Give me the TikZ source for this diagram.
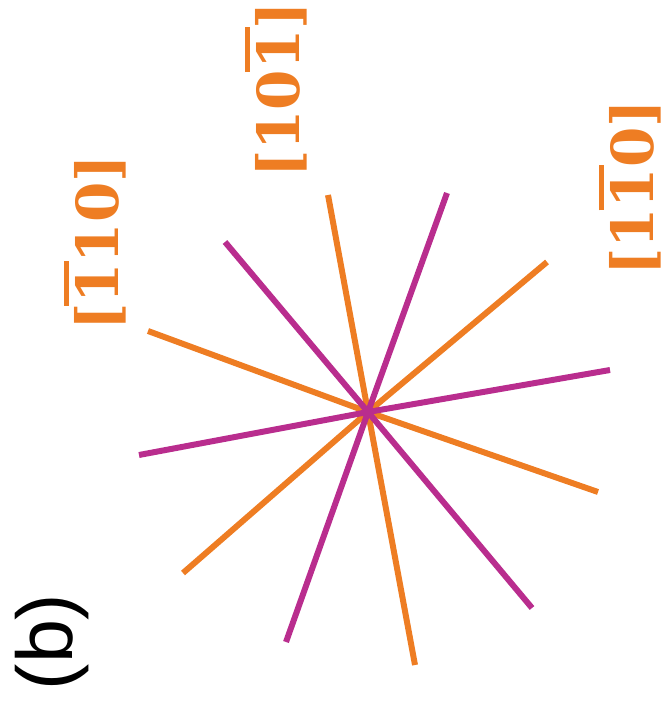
\documentclass[tikz,border=0pt]{standalone}
\usepackage{fontspec}
\setmainfont{DejaVu Serif}
\setsansfont{Liberation Sans}
\usepackage{tikz}
\definecolor{myorange}{RGB}{238,125,35}
\definecolor{mymagenta}{RGB}{185,45,142}
\newcommand{\bone}{\leavevmode\rlap{\hspace{-0.04em}\raisebox{0.86em}{\rule{0.78em}{0.09em}}}1}

\begin{document}
\begin{tikzpicture}[x=0.02cm,y=-0.02cm]
  \useasboundingbox (0,0) rectangle (666,705);
  \tikzset{ray/.style={line width=3.4pt},
           dirlabel/.style={myorange,rotate=90,font=\fontsize{33}{33}\selectfont\bfseries}}
  \coordinate (c) at (368,412);
  % orange directions
  \draw[myorange,ray] (148,331) -- (c) -- (598,492);
  \draw[myorange,ray] (328,195) -- (c) -- (415,665);
  \draw[myorange,ray] (547,262) -- (c) -- (183,573);
  % magenta directions
  \draw[mymagenta,ray] (225,242) -- (c) -- (532,608);
  \draw[mymagenta,ray] (447,193) -- (c) -- (286,642);
  \draw[mymagenta,ray] (610,370) -- (c) -- (139,455);
  % labels
  \node[dirlabel] (la) at (95,243) {[\bone10]};
  \node[dirlabel] (lb) at (276,90) {[10\bone]};
  \node[dirlabel] (lc) at (630,188) {[1\bone0]};
  \node[rotate=90,font=\fontsize{45}{45}\selectfont\sffamily] (lbl) at (52,642) {(b)};
\end{tikzpicture}
\end{document}
